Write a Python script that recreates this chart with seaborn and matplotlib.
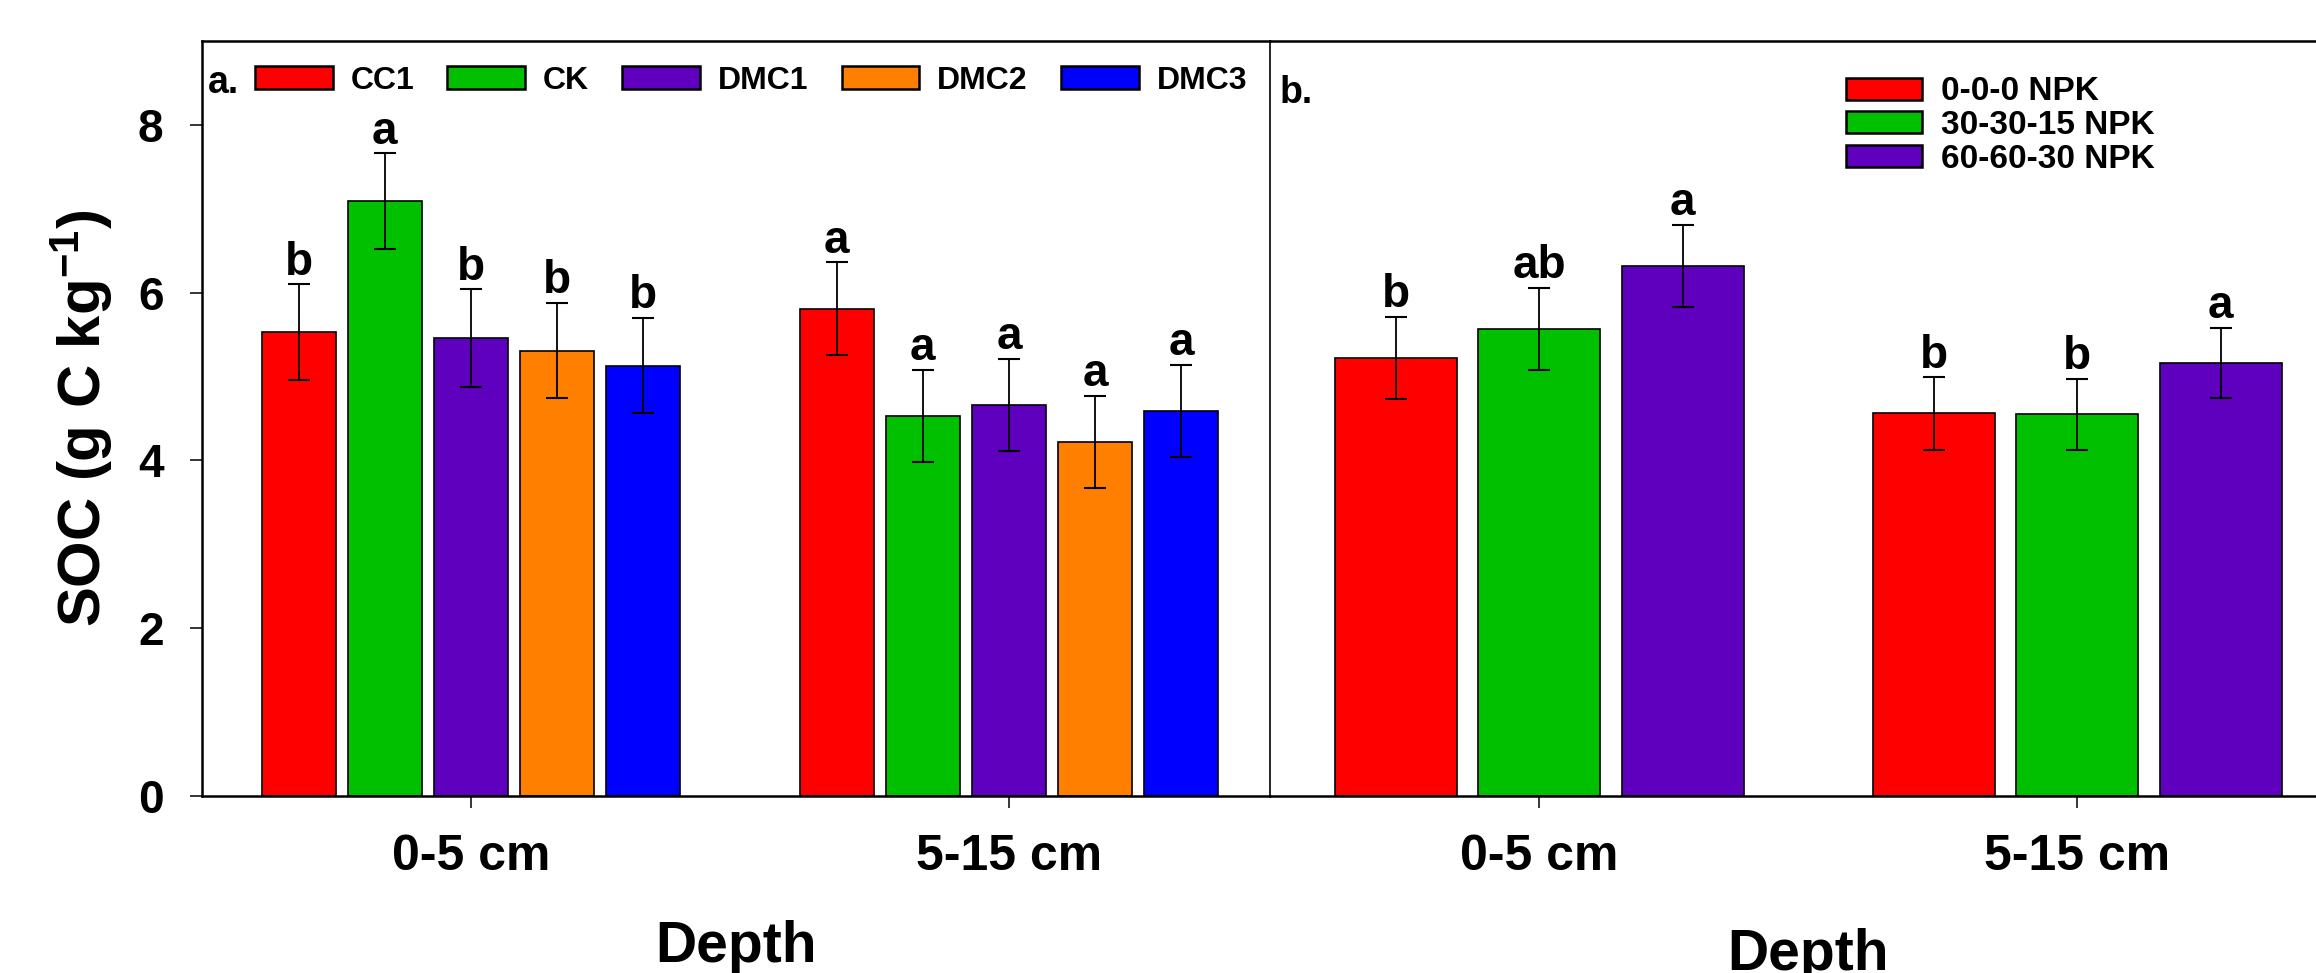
import numpy as np
import pandas as pd
import matplotlib
matplotlib.use("Agg")
import matplotlib.pyplot as plt
from matplotlib.container import BarContainer
import seaborn as sns

# soil depths (x categories)
depths = ["0-5 cm", "5-15 cm"]

# panel a: mulch treatments
mulch = ["CC1", "CK", "DMC1", "DMC2", "DMC3"]
mulch_colors = ["#FF0000", "#00C000", "#5E00BE", "#FF8000", "#0000FF"]
soc_mulch_0_5 = [5.53, 7.09, 5.46, 5.31, 5.13]
soc_mulch_5_15 = [5.81, 4.53, 4.66, 4.22, 4.59]
se_mulch_0_5 = [0.57, 0.57, 0.58, 0.57, 0.57]
se_mulch_5_15 = [0.55, 0.55, 0.55, 0.55, 0.55]
let_mulch_0_5 = ["b", "a", "b", "b", "b"]
let_mulch_5_15 = ["a", "a", "a", "a", "a"]

# panel b: NPK rates
npk = ["0-0-0 NPK", "30-30-15 NPK", "60-60-30 NPK"]
npk_colors = ["#FF0000", "#00C000", "#5E00BE"]
soc_npk_0_5 = [5.22, 5.57, 6.32]
soc_npk_5_15 = [4.56, 4.55, 5.16]
se_npk_0_5 = [0.49, 0.49, 0.49]
se_npk_5_15 = [0.43, 0.42, 0.42]
let_npk_0_5 = ["b", "ab", "a"]
let_npk_5_15 = ["b", "b", "a"]

sns.set_style("ticks")
plt.rcParams['font.family'] = ['Liberation Sans', 'DejaVu Sans']
plt.rcParams['font.weight'] = 'bold'
plt.rcParams['text.color'] = 'black'
plt.rcParams['axes.labelcolor'] = 'black'
plt.rcParams['axes.edgecolor'] = 'black'
plt.rcParams['xtick.color'] = 'black'
plt.rcParams['ytick.color'] = 'black'
plt.rcParams['mathtext.fontset'] = 'custom'
plt.rcParams['mathtext.rm'] = 'Liberation Sans:bold'
plt.rcParams['mathtext.it'] = 'Liberation Sans:bold'
plt.rcParams['mathtext.bf'] = 'Liberation Sans:bold'
plt.rcParams['mathtext.default'] = 'bf'

df_mulch = pd.DataFrame({"Depth": np.repeat(depths, len(mulch)),
                         "Treatment": mulch * 2,
                         "SOC": soc_mulch_0_5 + soc_mulch_5_15})
df_npk = pd.DataFrame({"Depth": np.repeat(depths, len(npk)),
                       "Treatment": npk * 2,
                       "SOC": soc_npk_0_5 + soc_npk_5_15})

fig = plt.figure(figsize=(23.16, 9.73), dpi=100)
ax1 = fig.add_axes([0.0872, 0.1819, 0.4611, 0.776])
ax2 = fig.add_axes([0.5484, 0.1819, 0.4646, 0.776])
ax2.patch.set_visible(False)


def draw(ax, df, groups, colors, se, letters, gap):
    sns.barplot(data=df, x="Depth", y="SOC", hue="Treatment", order=depths,
                hue_order=groups, palette=dict(zip(groups, colors)),
                width=0.8, gap=gap, errorbar=None, edgecolor="black",
                linewidth=1.2, saturation=1, legend=False, ax=ax)
    conts = [c for c in ax.containers if isinstance(c, BarContainer)]
    for i, cont in enumerate(conts):
        bars = cont.patches
        xs = [b.get_x() + b.get_width() / 2 for b in bars]
        hs = [b.get_height() for b in bars]
        errs = [se[d][i] for d in range(len(depths))]
        ax.errorbar(xs, hs, yerr=errs, fmt='none', ecolor='black',
                    elinewidth=1.3, capsize=8, capthick=1.5)
        for x, h, e, d in zip(xs, hs, errs, range(len(depths))):
            ax.annotate(letters[d][i], (x, h + e), xytext=(0, 7),
                        textcoords='offset points', ha='center',
                        va='baseline', fontsize=33, fontweight='bold')
    ax.set_ylim(0, 9)
    ax.tick_params(axis='x', direction='out', length=8.6, width=1.1,
                   pad=19, labelsize=36)
    ax.set_xlabel("Depth", fontsize=41, fontweight='bold')
    ax.set_ylabel("")
    for s in ["top", "bottom", "left"]:
        ax.spines[s].set_linewidth(1.8)
    return conts


bars1 = draw(ax1, df_mulch, mulch, mulch_colors,
             [se_mulch_0_5, se_mulch_5_15], [let_mulch_0_5, let_mulch_5_15], 0.14)
bars2 = draw(ax2, df_npk, npk, npk_colors,
             [se_npk_0_5, se_npk_5_15], [let_npk_0_5, let_npk_5_15], 0.15)

ax1.set_xlim(-0.5, 1.485)
ax2.set_xlim(-0.5, 1.5)

ax1.set_yticks([0, 2, 4, 6, 8])
ax1.tick_params(axis='y', direction='out', length=8.6, width=1.1,
                pad=19, labelsize=33)
ax1.set_ylabel(r"SOC (g C kg$^{-1}$)", fontsize=43, fontweight='bold')
ax1.yaxis.set_label_coords(-0.0815, 0.5)
ax1.spines["right"].set_linewidth(1.2)

ax2.tick_params(axis='y', left=False, labelleft=False)
ax2.spines["left"].set_visible(False)

ax1.xaxis.set_label_coords(0.5, -0.164)
ax2.xaxis.set_label_coords(0.5, -0.175)

leg1 = ax1.legend(bars1, mulch, loc='upper left', bbox_to_anchor=(0.0496, 0.967),
                  ncol=5, frameon=False, fontsize=23, handlelength=2.44,
                  handleheight=0.72, handletextpad=0.56, columnspacing=1.03,
                  borderpad=0, borderaxespad=0)
leg2 = ax2.legend(bars2, npk, loc='upper left', bbox_to_anchor=(0.535, 0.953),
                  ncol=1, frameon=False, fontsize=24, handlelength=2.3,
                  handleheight=0.64, handletextpad=0.55, labelspacing=0.08,
                  borderpad=0, borderaxespad=0)
for leg in [leg1, leg2]:
    for p in leg.get_patches():
        p.set_linewidth(1.8)

ax1.text(0.0056, 0.931, "a.", transform=ax1.transAxes, fontsize=27,
         fontweight='bold', va='baseline', ha='left')
ax2.text(0.0084, 0.918, "b.", transform=ax2.transAxes, fontsize=27,
         fontweight='bold', va='baseline', ha='left')

fig.savefig("out.png", dpi=100)
